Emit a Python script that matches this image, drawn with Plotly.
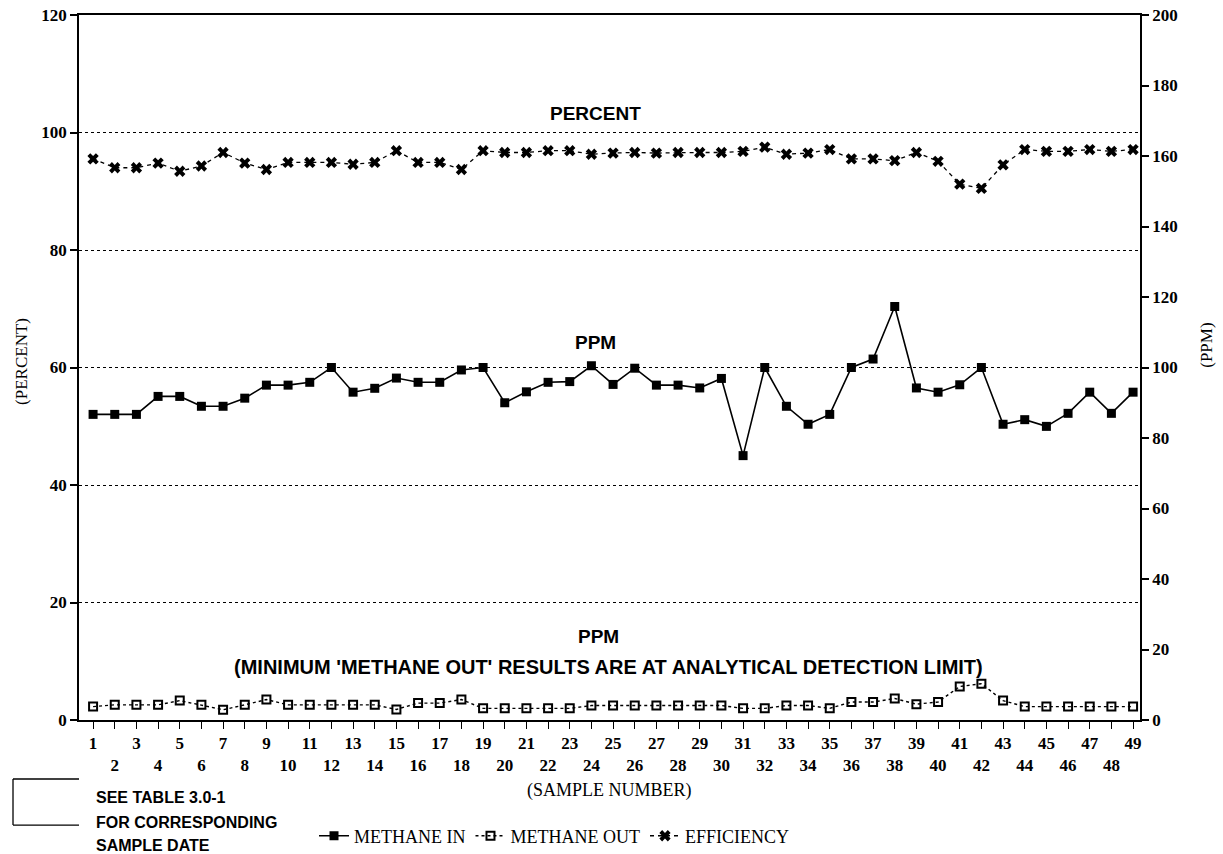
import plotly.graph_objects as go

samples = list(range(1, 50))

methane_in = [86.7, 86.7, 86.7, 91.8, 91.8, 89.0, 89.0, 91.3, 95.0, 95.0,
              95.8, 100.0, 93.0, 94.1, 97.0, 95.8, 95.8, 99.3, 100.0, 90.0,
              93.1, 95.8, 96.0, 100.5, 95.2, 99.8, 95.0, 95.0, 94.2, 96.9,
              75.0, 100.0, 89.0, 83.9, 86.7, 100.0, 102.4, 117.3, 94.2, 93.0,
              95.1, 100.0, 83.9, 85.2, 83.3, 87.0, 93.0, 87.0, 93.0]

methane_out = [3.8, 4.3, 4.3, 4.3, 5.5, 4.3, 2.9, 4.3, 5.8, 4.3,
               4.3, 4.3, 4.3, 4.3, 3.0, 4.8, 4.8, 5.8, 3.3, 3.3,
               3.3, 3.3, 3.3, 4.1, 4.1, 4.1, 4.1, 4.1, 4.1, 4.1,
               3.3, 3.3, 4.1, 4.1, 3.3, 5.1, 5.1, 6.1, 4.5, 5.1,
               9.5, 10.3, 5.5, 3.8, 3.8, 3.8, 3.8, 3.8, 3.8]

efficiency = [95.5, 94.0, 94.0, 94.8, 93.4, 94.3, 96.6, 94.8, 93.7, 94.9,
              94.9, 94.9, 94.6, 94.9, 96.9, 94.9, 94.9, 93.7, 96.9, 96.6,
              96.6, 96.9, 96.9, 96.3, 96.5, 96.6, 96.5, 96.6, 96.6, 96.6,
              96.8, 97.5, 96.3, 96.5, 97.1, 95.5, 95.5, 95.2, 96.6, 95.1,
              91.2, 90.5, 94.5, 97.1, 96.8, 96.8, 97.1, 96.8, 97.1]

percent_ticks = [0, 20, 40, 60, 80, 100, 120]
ppm_ticks = [0, 20, 40, 60, 80, 100, 120, 140, 160, 180, 200]
x_ticktext = [str(n) if n % 2 == 1 else "<br>" + str(n) for n in samples]

SERIF = "Liberation Serif"
SANS = "Liberation Sans"

fig = go.Figure()

fig.add_trace(go.Scatter(
    x=samples, y=methane_in, yaxis="y2", name="METHANE IN",
    mode="lines+markers",
    line=dict(color="black", width=1.6),
    marker=dict(symbol="square", size=9, color="black"),
))
fig.add_trace(go.Scatter(
    x=samples, y=methane_out, yaxis="y2", name="METHANE OUT",
    mode="lines+markers",
    line=dict(color="black", width=1.4, dash="dot"),
    marker=dict(symbol="square-open", size=8, color="black", line=dict(width=2, color="black")),
))
fig.add_trace(go.Scatter(
    x=samples, y=efficiency, yaxis="y", name="EFFICIENCY",
    mode="lines+markers",
    line=dict(color="black", width=1.3, dash="4px,4px"),
    marker=dict(symbol="x", size=10, color="black"),
))

fig.update_layout(
    width=1223, height=854,
    margin=dict(l=79, r=83, t=15, b=134, autoexpand=False),
    paper_bgcolor="white", plot_bgcolor="white",
    showlegend=True,
    legend=dict(
        orientation="h", x=0.2215, xanchor="left",
        yref="container", y=0.021, yanchor="middle",
        font=dict(family=SERIF, size=18, color="black"),
        bgcolor="rgba(0,0,0,0)", traceorder="normal",
    ),
    xaxis=dict(
        range=[0.35, 49.32], tickvals=samples, ticktext=x_ticktext,
        ticks="outside", ticklen=7, tickwidth=1.2, tickcolor="black",
        showline=True, linecolor="black", linewidth=1.6, mirror=True,
        showgrid=False, zeroline=False,
        tickfont=dict(family=SERIF, size=17, color="black", weight="bold"),
    ),
    yaxis=dict(
        range=[0, 120], tickvals=percent_ticks,
        ticks="outside", ticklen=7, tickwidth=1.5, tickcolor="black",
        showline=True, linecolor="black", linewidth=1.6,
        showgrid=True, gridcolor="black", griddash="dot", gridwidth=1.2,
        zeroline=False,
        tickfont=dict(family=SERIF, size=17, color="black", weight="bold"),
    ),
    yaxis2=dict(
        range=[0, 200], tickvals=ppm_ticks, overlaying="y", side="right",
        ticks="outside", ticklen=7, tickwidth=1.5, tickcolor="black",
        showline=True, linecolor="black", linewidth=1.6,
        showgrid=False, zeroline=False,
        tickfont=dict(family=SERIF, size=17, color="black", weight="bold"),
    ),
)

def ann(text, x, y, size, family, bold=False, angle=0, xanchor="center", yanchor="middle"):
    fig.add_annotation(
        text=text, x=x, y=y, xref="paper", yref="paper", showarrow=False,
        textangle=angle, xanchor=xanchor, yanchor=yanchor,
        font=dict(family=family, size=size, color="black", weight="bold" if bold else "normal"),
    )

ann("PERCENT", 0.487, 0.8596, 19, SANS, bold=True)
ann("PPM", 0.487, 0.5348, 19, SANS, bold=True)
ann("PPM", 0.49, 0.119, 19, SANS, bold=True)
ann("(MINIMUM 'METHANE OUT' RESULTS ARE AT ANALYTICAL DETECTION LIMIT)", 0.4986, 0.075, 20, SANS, bold=True)
ann("(PERCENT)", -0.0537, 0.508, 17, SERIF, angle=-90)
ann("(PPM)", 1.063, 0.532, 17, SERIF, angle=-90)
ann("(SAMPLE NUMBER)", 0.5, -0.0995, 18, SERIF)
ann("SEE TABLE 3.0-1", 0.0141, -0.1106, 16, SANS, bold=True, xanchor="left")
ann("FOR CORRESPONDING", 0.0141, -0.1447, 16, SANS, bold=True, xanchor="left")
ann("SAMPLE DATE", 0.0141, -0.1787, 16, SANS, bold=True, xanchor="left")

# bracket at lower left
bx0, bx1 = -0.0622, 0.0
by0, by1 = -0.0837, -0.149
for (x0, y0, x1, y1) in [(bx0, by0, bx1, by0), (bx0, by0, bx0, by1), (bx0, by1, bx1, by1)]:
    fig.add_shape(type="line", xref="paper", yref="paper", x0=x0, y0=y0, x1=x1, y1=y1,
                  line=dict(color="black", width=1.3))

fig.write_html("out.html", config={"displayModeBar": False},
               post_script="document.body.style.margin='0';")
